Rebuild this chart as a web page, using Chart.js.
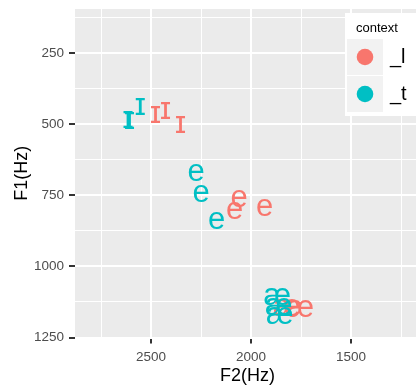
<!DOCTYPE html>
<html>
<head>
<meta charset="utf-8">
<script src="https://cdn.jsdelivr.net/npm/chart.js@4/dist/chart.umd.min.js"></script>
<style>
  html, body { margin: 0; padding: 0; background: #fff; overflow: hidden; width: 416px; height: 385px; }
  #wrap { width: 420px; height: 385px; }
</style>
</head>
<body>
<div id="wrap"><canvas id="c" width="420" height="385"></canvas></div>
<script>
// Vowel formants by following context
const contexts = ['_l', '_t'];
const contextColors = ['#F8766D', '#00BFC4'];

const lVowel = ['ɪ', 'ɪ', 'ɪ', 'e', 'e', 'e', 'æ', 'æ'];
const lF2    = [2475, 2425, 2350, 2060, 2083, 1933, 1820, 1752];
const lF1    = [467, 450, 502, 760, 802, 791, 1143, 1147];

const tVowel = ['ɪ', 'ɪ', 'ɪ', 'e', 'e', 'e', 'æ', 'æ', 'æ'];
const tF2    = [2612, 2605, 2551, 2275, 2250, 2172, 1868, 1860, 1855];
const tF1    = [484, 487, 437, 668, 742, 837, 1107, 1142, 1171];

// Axis breaks
const xMajor = [2500, 2000, 1500];
const xMinor = [2750, 2250, 1750, 1250];
const yMajor = [250, 500, 750, 1000, 1250];
const yMinor = [125, 375, 625, 875, 1125];

const FONT = '"Liberation Sans", Arial, "DejaVu Sans", sans-serif';

function breaks(major, minor) {
  return major.map(v => ({ value: v, minor: false }))
    .concat(minor.map(v => ({ value: v, minor: true })))
    .sort((a, b) => a.value - b.value);
}

function points(f2, f1) {
  return f2.map((x, i) => ({ x: x, y: f1[i] }));
}

const isMinor = c => c.tick && c.tick.minor;

const gridOpts = {
  color: '#FFFFFF',
  lineWidth: c => isMinor(c) ? 1 : 2,
  tickColor: c => isMinor(c) ? 'rgba(0,0,0,0)' : '#333333',
  tickWidth: 2,
  tickLength: 6,
  drawOnChartArea: true
};

const panelPlugin = {
  id: 'panel',
  beforeDraw(chart) {
    const { ctx, chartArea: a } = chart;
    ctx.save();
    ctx.fillStyle = '#FFFFFF';
    ctx.fillRect(0, 0, chart.width, chart.height);
    ctx.fillStyle = '#EBEBEB';
    ctx.fillRect(a.left, a.top, a.right - a.left, a.bottom - a.top);
    ctx.restore();
  }
};

// Each observation is written as its vowel symbol, centred on the data point
const glyphPlugin = {
  id: 'vowelGlyphs',
  afterDatasetsDraw(chart) {
    const ctx = chart.ctx;
    ctx.save();
    ctx.font = '31px ' + FONT;
    ctx.textAlign = 'left';
    ctx.textBaseline = 'alphabetic';
    chart.data.datasets.forEach((ds, i) => {
      const meta = chart.getDatasetMeta(i);
      ctx.fillStyle = ds.borderColor;
      meta.data.forEach((pt, j) => {
        const g = ds.glyphs[j];
        const m = ctx.measureText(g);
        const dx = (m.actualBoundingBoxRight - m.actualBoundingBoxLeft) / 2;
        const dy = (m.actualBoundingBoxAscent - m.actualBoundingBoxDescent) / 2;
        ctx.fillText(g, pt.x - dx, pt.y + dy);
      });
    });
    ctx.restore();
  }
};

// Legend box drawn over the top-right of the panel
const legendPlugin = {
  id: 'contextLegend',
  afterDraw(chart) {
    const ctx = chart.ctx;
    ctx.save();
    ctx.fillStyle = '#FFFFFF';
    ctx.fillRect(345, 13, 80, 103);
    ctx.fillStyle = '#000000';
    ctx.font = '13px ' + FONT;
    ctx.textBaseline = 'alphabetic';
    ctx.textAlign = 'left';
    ctx.fillText('context', 356, 32);
    chart.data.datasets.forEach((ds, i) => {
      const top = 39 + i * 37;
      ctx.fillStyle = '#F2F2F2';
      ctx.fillRect(347, top, 36, 36);
      ctx.fillStyle = ds.borderColor;
      ctx.beginPath();
      ctx.arc(365, top + 18, 8.3, 0, Math.PI * 2);
      ctx.fill();
      ctx.fillStyle = '#000000';
      ctx.font = '20px ' + FONT;
      ctx.textBaseline = 'middle';
      ctx.fillText(ds.label, 390, top + 18);
    });
    ctx.restore();
  }
};

new Chart(document.getElementById('c'), {
  type: 'scatter',
  data: {
    datasets: [
      { label: contexts[0], data: points(lF2, lF1), glyphs: lVowel,
        borderColor: contextColors[0], backgroundColor: contextColors[0], pointRadius: 0, pointHoverRadius: 0 },
      { label: contexts[1], data: points(tF2, tF1), glyphs: tVowel,
        borderColor: contextColors[1], backgroundColor: contextColors[1], pointRadius: 0, pointHoverRadius: 0 }
    ]
  },
  options: {
    responsive: false,
    animation: false,
    events: [],
    layout: { padding: { top: 9, right: 0, left: 0, bottom: 0 } },
    plugins: { legend: { display: false }, tooltip: { enabled: false } },
    scales: {
      x: {
        type: 'linear',
        reverse: true,
        min: 1155,
        max: 2880,
        afterBuildTicks: s => { s.ticks = breaks(xMajor, xMinor); },
        afterFit: s => { s.height = 47.5; s.paddingLeft = 0; s.paddingRight = 0; },
        grid: gridOpts,
        border: { display: false },
        ticks: {
          autoSkip: false,
          maxRotation: 0,
          padding: 5.5,
          color: '#4D4D4D',
          font: { family: FONT, size: 13.5 },
          callback: (v, i, t) => t[i].minor ? '' : String(v)
        },
        title: {
          display: true,
          text: 'F2(Hz)',
          color: '#000000',
          font: { family: FONT, size: 18, lineHeight: 1 },
          padding: { top: 0, bottom: 0 }
        }
      },
      y: {
        type: 'linear',
        reverse: true,
        min: 94,
        max: 1250,
        afterBuildTicks: s => { s.ticks = breaks(yMajor, yMinor); },
        afterFit: s => { s.width = 75; s.paddingTop = 0; s.paddingBottom = 0; },
        grid: gridOpts,
        border: { display: false },
        ticks: {
          autoSkip: false,
          padding: 5,
          color: '#4D4D4D',
          font: { family: FONT, size: 13.5 },
          callback: (v, i, t) => t[i].minor ? '' : String(v)
        },
        title: {
          display: true,
          text: 'F1(Hz)',
          color: '#000000',
          font: { family: FONT, size: 18, lineHeight: 1 },
          padding: { top: 13, bottom: 0 }
        }
      }
    }
  },
  plugins: [panelPlugin, glyphPlugin, legendPlugin]
});
</script>
</body>
</html>
